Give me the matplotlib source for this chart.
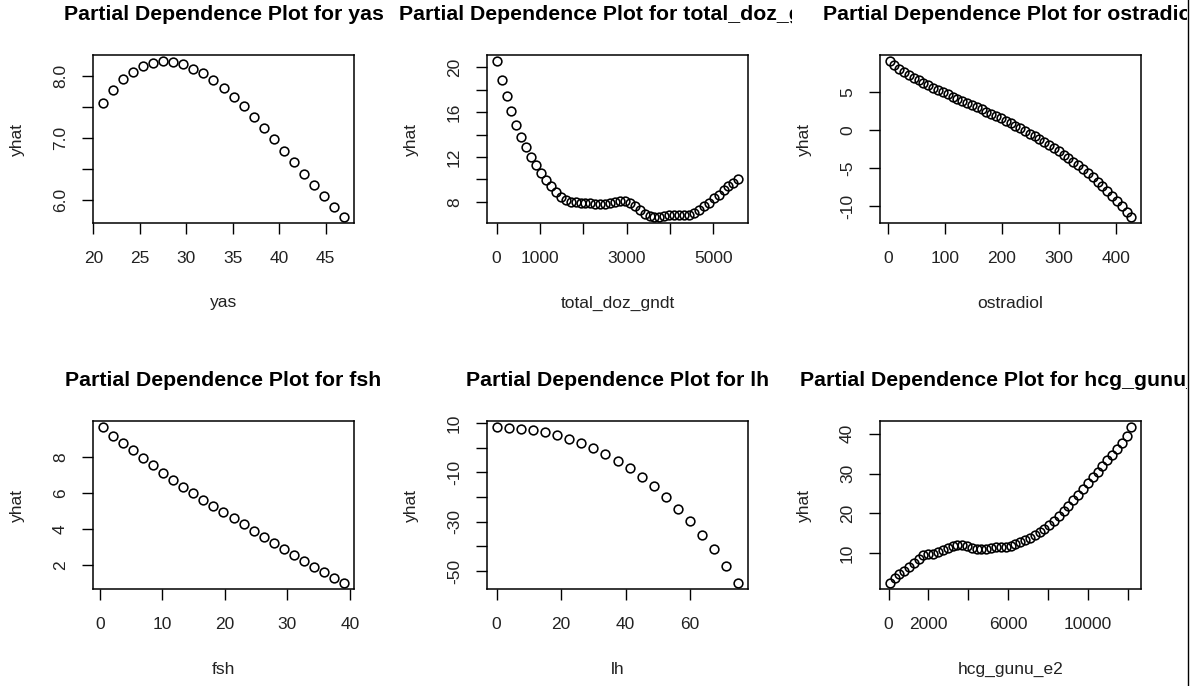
import matplotlib
matplotlib.use("Agg")
import matplotlib.pyplot as plt
from matplotlib.transforms import Bbox, TransformedBbox
from matplotlib.lines import Line2D

plt.rcParams['font.family'] = ['Liberation Sans', 'DejaVu Sans']
plt.rcParams['axes.unicode_minus'] = False

# ---------------- data ----------------
features = ["yas", "total_doz_gndt", "ostradiol", "fsh", "lh", "hcg_gunu_e2"]

yas_x = [21.0, 22.08, 23.17, 24.25, 25.33, 26.42, 27.5, 28.58, 29.67, 30.75, 31.83,
         32.92, 34.0, 35.08, 36.17, 37.25, 38.33, 39.42, 40.5, 41.58, 42.67, 43.75,
         44.83, 45.92, 47.0]
yas_y = [7.566, 7.769, 7.941, 8.064, 8.155, 8.214, 8.236, 8.225, 8.188, 8.118, 8.038,
         7.930, 7.796, 7.657, 7.507, 7.335, 7.164, 6.981, 6.788, 6.606, 6.418, 6.241,
         6.059, 5.887, 5.721]

doz_x = [0, 114, 228, 341, 455, 569, 683, 796, 910, 1024, 1138, 1251, 1365, 1479, 1593,
         1706, 1820, 1934, 2048, 2161, 2275, 2389, 2503, 2616, 2730, 2844, 2958, 3071,
         3185, 3299, 3413, 3526, 3640, 3754, 3868, 3981, 4095, 4209, 4323, 4436, 4550,
         4664, 4778, 4891, 5005, 5119, 5233, 5346, 5460, 5574]
doz_y = [20.53, 18.87, 17.39, 16.06, 14.84, 13.81, 12.86, 12.03, 11.26, 10.58, 9.96,
         9.42, 8.92, 8.47, 8.18, 8.03, 7.97, 7.94, 7.91, 7.88, 7.85, 7.82, 7.85, 7.91,
         8.00, 8.12, 8.12, 7.91, 7.61, 7.29, 6.96, 6.76, 6.67, 6.67, 6.73, 6.81, 6.87,
         6.87, 6.84, 6.87, 7.05, 7.29, 7.61, 7.94, 8.30, 8.65, 9.04, 9.39, 9.72, 10.01]

ost_x = [2.3, 10.8, 19.3, 27.8, 36.3, 44.8, 53.3, 61.8, 70.3, 78.8, 87.3, 95.8, 104.3,
         112.9, 121.4, 129.9, 138.4, 146.9, 155.4, 163.9, 172.4, 180.9, 189.4, 197.9,
         206.4, 214.9, 223.4, 231.9, 240.4, 248.9, 257.4, 265.9, 274.4, 282.9, 291.4,
         299.9, 308.4, 316.9, 325.5, 334.0, 342.5, 351.0, 359.5, 368.0, 376.5, 385.0,
         393.5, 402.0, 410.5, 419.0, 427.5]
ost_y = [9.06, 8.55, 8.08, 7.65, 7.25, 6.88, 6.53, 6.20, 5.88, 5.57, 5.27, 4.98, 4.69,
         4.41, 4.13, 3.85, 3.57, 3.29, 3.01, 2.73, 2.44, 2.15, 1.85, 1.54, 1.23, 0.91,
         0.58, 0.24, -0.11, -0.46, -0.82, -1.19, -1.57, -1.96, -2.36, -2.78, -3.22,
         -3.67, -4.14, -4.63, -5.14, -5.67, -6.22, -6.79, -7.38, -8.00, -8.64, -9.31,
         -10.00, -10.72, -11.40]

fsh_x = [0.43, 2.04, 3.65, 5.26, 6.87, 8.49, 10.10, 11.71, 13.32, 14.93, 16.54, 18.15,
         19.76, 21.37, 22.99, 24.60, 26.21, 27.82, 29.43, 31.04, 32.65, 34.26, 35.87,
         37.49, 39.10]
fsh_y = [9.63, 9.16, 8.75, 8.35, 7.93, 7.52, 7.12, 6.72, 6.35, 5.98, 5.61, 5.25, 4.92,
         4.59, 4.26, 3.91, 3.58, 3.23, 2.90, 2.57, 2.22, 1.89, 1.61, 1.32, 1.03]

lh_x = [0, 3.75, 7.5, 11.25, 15, 18.75, 22.5, 26.25, 30, 33.75, 37.5, 41.25, 45, 48.75,
        52.5, 56.25, 60, 63.75, 67.5, 71.25, 75]
lh_y = [8.26, 8.12, 7.72, 7.18, 6.38, 5.03, 3.56, 1.81, -0.34, -2.75, -5.44, -8.39,
        -11.74, -15.64, -19.93, -24.77, -29.87, -35.23, -41.14, -47.72, -54.70]

hcg_x = [50, 293, 535, 778, 1021, 1264, 1506, 1749, 1992, 2235, 2477, 2720, 2963, 3206,
         3448, 3691, 3934, 4177, 4419, 4662, 4905, 5148, 5390, 5633, 5876, 6119, 6361,
         6604, 6847, 7089, 7332, 7575, 7818, 8060, 8303, 8546, 8789, 9031, 9274, 9517,
         9760, 10003, 10245, 10488, 10731, 10974, 11216, 11459, 11702, 11945, 12187]
hcg_y = [2.48, 3.57, 4.57, 5.57, 6.57, 7.58, 8.58, 9.50, 9.83, 9.75, 10.25, 10.84, 11.34,
         11.75, 12.00, 12.00, 11.67, 11.25, 10.92, 10.92, 11.09, 11.25, 11.42, 11.50,
         11.59, 11.80, 12.20, 12.70, 13.25, 13.85, 14.50, 15.25, 16.10, 17.05, 18.10,
         19.25, 20.50, 21.85, 23.25, 24.70, 26.15, 27.60, 29.05, 30.50, 31.95, 33.35,
         34.75, 36.20, 37.75, 39.55, 41.67]

# tick positions and which ones carry labels
yas_xt = [20, 25, 30, 35, 40, 45];            yas_xl = ["20", "25", "30", "35", "40", "45"]
yas_yt = [6.0, 6.5, 7.0, 7.5, 8.0];           yas_yl = ["6.0", "", "7.0", "", "8.0"]
doz_xt = [0, 1000, 2000, 3000, 4000, 5000];   doz_xl = ["0", "1000", "", "3000", "", "5000"]
doz_yt = [8, 10, 12, 14, 16, 18, 20];         doz_yl = ["8", "", "12", "", "16", "", "20"]
ost_xt = [0, 100, 200, 300, 400];             ost_xl = ["0", "100", "200", "300", "400"]
ost_yt = [-10, -5, 0, 5];                     ost_yl = ["-10", "-5", "0", "5"]
fsh_xt = [0, 10, 20, 30, 40];                 fsh_xl = ["0", "10", "20", "30", "40"]
fsh_yt = [2, 4, 6, 8];                        fsh_yl = ["2", "4", "6", "8"]
lh_xt = [0, 20, 40, 60];                      lh_xl = ["0", "20", "40", "60"]
lh_yt = [-50, -40, -30, -20, -10, 0, 10];     lh_yl = ["-50", "", "-30", "", "-10", "", "10"]
hcg_xt = [0, 2000, 4000, 6000, 8000, 10000, 12000]
hcg_xl = ["0", "2000", "", "6000", "", "10000", ""]
hcg_yt = [10, 20, 30, 40];                    hcg_yl = ["10", "20", "30", "40"]

panels = [
    (yas_x, yas_y, yas_xt, yas_xl, yas_yt, yas_yl),
    (doz_x, doz_y, doz_xt, doz_xl, doz_yt, doz_yl),
    (ost_x, ost_y, ost_xt, ost_xl, ost_yt, ost_yl),
    (fsh_x, fsh_y, fsh_xt, fsh_xl, fsh_yt, fsh_yl),
    (lh_x, lh_y, lh_xt, lh_xl, lh_yt, lh_yl),
    (hcg_x, hcg_y, hcg_xt, hcg_xl, hcg_yt, hcg_yl),
]

# ---------------- layout ----------------
W, H = 1203, 686
fig = plt.figure(figsize=(W / 100, H / 100), dpi=100)
fig.patch.set_facecolor("white")

lefts = [93, 487, 880]
tops = [55, 421]
aw, ah = 261, 168
col_edges = [(0, 396), (396, 792), (792, 1187)]

FS = 12.5
for k, (feat, (x, y, xt, xl, yt, yl)) in enumerate(zip(features, panels)):
    r, c = divmod(k, 3)
    l, t = lefts[c], tops[r]
    ax = fig.add_axes([l / W, 1 - (t + ah) / H, aw / W, ah / H])
    ax.plot(x, y, linestyle="none", marker="o", markersize=6.3,
            markerfacecolor="none", markeredgecolor="black", markeredgewidth=1.15)
    ax.margins(0.04)
    ax.set_xticks(xt)
    ax.set_xticklabels(xl)
    ax.set_yticks(yt)
    ax.set_yticklabels(yl, rotation=90, va="center")
    ax.tick_params(direction="out", length=8, width=1.0, labelsize=FS,
                   color="black", labelcolor="#222222")
    ax.tick_params(axis="x", pad=12)
    ax.tick_params(axis="y", pad=10)
    for s in ax.spines.values():
        s.set_linewidth(1.1)
        s.set_color("black")
    ax.text(0.5, -80 / ah, feat, transform=ax.transAxes, ha="center", va="center",
            fontsize=FS, color="#222222")
    ax.text(-76 / aw, 0.5, "yhat", transform=ax.transAxes, ha="center", va="center",
            rotation=90, fontsize=FS, color="#222222")
    ttl = ax.text(0.5, 1 + 41 / ah, "Partial Dependence Plot for " + feat,
                  transform=ax.transAxes, ha="center", va="center",
                  fontsize=15.3, fontweight="bold", color="black")
    x0, x1 = col_edges[c]
    ttl.set_clip_box(TransformedBbox(Bbox.from_extents(x0 / W, 0, x1 / W, 1),
                                     fig.transFigure))
    ttl.set_clip_on(True)

fig.add_artist(Line2D([1187.5 / W, 1187.5 / W], [0, 1], transform=fig.transFigure,
                      color="black", linewidth=1.0))

fig.savefig("out.png", dpi=100)
